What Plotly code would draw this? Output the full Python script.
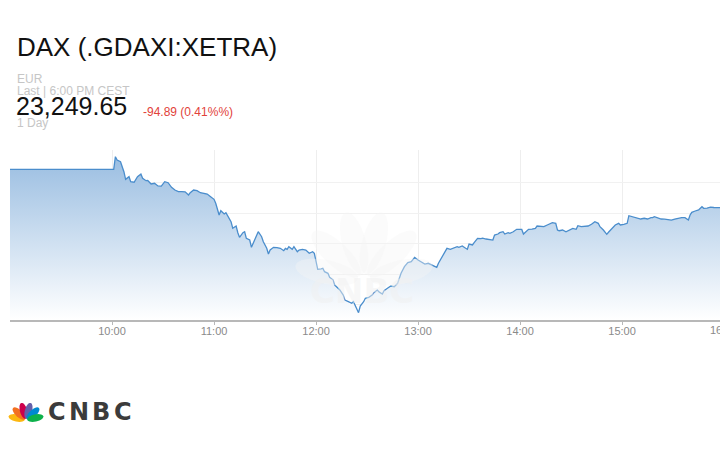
import math
import plotly.graph_objects as go

# ---------------- data ----------------
DATE = "2025-06-13"
times = [
    "09:00", "10:01", "10:02", "10:03", "10:05", "10:07", "10:08", "10:10", "10:11", "10:13",
    "10:15", "10:17", "10:18", "10:20", "10:21", "10:23", "10:25", "10:27", "10:29", "10:31",
    "10:33", "10:35", "10:37", "10:39", "10:41", "10:43", "10:45", "10:46", "10:48", "10:50",
    "10:52", "10:54", "10:56", "10:58", "11:00", "11:01", "11:02", "11:03", "11:04", "11:06",
    "11:07", "11:09", "11:10", "11:11", "11:13", "11:14", "11:15", "11:17", "11:18", "11:19",
    "11:21", "11:22", "11:24", "11:25", "11:26", "11:28", "11:29", "11:31", "11:32", "11:33",
    "11:35", "11:37", "11:39", "11:41", "11:42", "11:43", "11:44", "11:46", "11:47", "11:49",
    "11:50", "11:52", "11:54", "11:56", "11:58", "11:59", "12:00", "12:01", "12:03", "12:04",
    "12:05", "12:07", "12:08", "12:10", "12:11", "12:13", "12:14", "12:16", "12:17", "12:19",
    "12:21", "12:22", "12:23", "12:25", "12:26", "12:28", "12:29", "12:31", "12:33", "12:34",
    "12:36", "12:37", "12:39", "12:40", "12:42", "12:43", "12:44", "12:46", "12:48", "12:49",
    "12:50", "12:52", "12:54", "12:56", "12:58", "13:00", "13:02", "13:04", "13:06", "13:08",
    "13:11", "13:12", "13:14", "13:16", "13:17", "13:19", "13:21", "13:23", "13:24", "13:26",
    "13:28", "13:29", "13:30", "13:32", "13:33", "13:35", "13:37", "13:38", "13:40", "13:42",
    "13:44", "13:45", "13:47", "13:48", "13:50", "13:51", "13:53", "13:54", "13:56", "13:58",
    "14:00", "14:01", "14:02", "14:04", "14:05", "14:07", "14:09", "14:10", "14:12", "14:14",
    "14:16", "14:18", "14:19", "14:21", "14:22", "14:23", "14:25", "14:27", "14:29", "14:31",
    "14:33", "14:34", "14:36", "14:38", "14:40", "14:42", "14:44", "14:46", "14:47", "14:49",
    "14:51", "14:52", "14:54", "14:56", "14:58", "14:59", "15:01", "15:03", "15:04", "15:06",
    "15:08", "15:10", "15:11", "15:13", "15:15", "15:17", "15:18", "15:19", "15:21", "15:23",
    "15:25", "15:27", "15:29", "15:31", "15:33", "15:35", "15:37", "15:39", "15:40", "15:41",
    "15:43", "15:45", "15:47", "15:48", "15:50", "15:52", "15:54", "15:56", "15:58",
]
prices = [
    23344.54, 23344.54, 23375.7, 23367.5, 23363.3, 23338.6, 23319.8, 23326.3, 23313.9, 23312.5,
    23326.3, 23332.9, 23322.3, 23316.4, 23317.0, 23308.2, 23309.9, 23303.3, 23303.0, 23313.9,
    23311.4, 23300.1, 23293.4, 23289.2, 23289.5, 23288.8, 23281.0, 23286.7, 23293.4, 23291.7,
    23286.7, 23285.2, 23283.5, 23276.8, 23270.4, 23260.5, 23244.0, 23231.6, 23242.2, 23234.1,
    23237.3, 23223.5, 23215.1, 23198.8, 23204.4, 23187.9, 23176.5, 23187.9, 23190.3, 23174.0,
    23169.8, 23151.8, 23169.8, 23178.0, 23190.3, 23178.0, 23165.6, 23149.3, 23135.2, 23145.1,
    23151.8, 23151.0, 23149.3, 23143.4, 23149.3, 23146.9, 23153.3, 23146.9, 23153.3, 23140.9,
    23145.1, 23146.9, 23145.1, 23136.9, 23140.9, 23136.9, 23120.4, 23097.4, 23098.5, 23099.9,
    23091.5, 23087.6, 23077.6, 23071.0, 23058.6, 23050.5, 23046.3, 23033.9, 23021.6, 23017.4,
    23013.4, 23017.4, 23006.7, 22990.2, 23006.7, 23017.4, 23025.8, 23028.2, 23033.9, 23039.6,
    23046.3, 23042.1, 23036.4, 23044.6, 23050.5, 23054.4, 23056.2, 23054.4, 23062.8, 23075.2,
    23087.6, 23103.9, 23113.8, 23116.2, 23127.1, 23120.4, 23116.2, 23110.5, 23112.3, 23108.1,
    23102.4, 23112.3, 23128.6, 23145.1, 23149.3, 23146.9, 23150.8, 23153.3, 23151.8, 23155.0,
    23149.3, 23146.9, 23159.9, 23157.5, 23163.2, 23174.0, 23173.2, 23174.5, 23172.3, 23171.6,
    23169.8, 23182.2, 23184.6, 23187.9, 23190.3, 23184.6, 23187.9, 23186.4, 23190.3, 23196.3,
    23197.0, 23196.0, 23184.6, 23192.8, 23196.3, 23196.8, 23198.7, 23204.4, 23204.0, 23202.7,
    23206.9, 23211.1, 23212.6, 23211.1, 23194.5, 23192.8, 23194.5, 23190.3, 23194.5, 23198.7,
    23196.3, 23205.2, 23202.7, 23202.9, 23204.4, 23208.6, 23215.1, 23211.1, 23202.7, 23194.5,
    23183.9, 23188.9, 23198.7, 23206.9, 23211.1, 23206.9, 23208.6, 23211.1, 23229.9, 23227.4,
    23224.9, 23223.5, 23221.7, 23223.5, 23221.7, 23224.9, 23225.2, 23227.4, 23224.9, 23221.7,
    23221.4, 23219.3, 23219.0, 23221.7, 23223.5, 23224.9, 23225.2, 23219.3, 23231.6, 23238.3,
    23241.5, 23244.0, 23252.1, 23248.2, 23248.6, 23250.9, 23250.2, 23250.0, 23249.65,
]
hour_ticks = ["10:00", "11:00", "12:00", "13:00", "14:00", "15:00"]
last_tick = "16:00"
y_grid = [23010.7, 23085.7, 23160.7, 23235.7, 23310.7]
y_range = [22972.2, 23392.2]
x_start, x_end = "09:00:00", "15:57:36"

title_text = "DAX (.GDAXI:XETRA)"
currency = "EUR"
last_text = "Last | 6:00 PM CEST"
last_price = "23,249.65"
change_text = "-94.89 (0.41%%)"
period_text = "1 Day"
logo_letters = ["C", "N", "B", "C"]

# ---------------- figure ----------------
W, H = 720, 450
L, R, T, B = 10, 0, 150, 130
PW, PH = W - L - R, H - T - B


def pxx(x):
    return (x - L) / PW


def pxy(y):
    return (H - B - y) / PH


FONT = "Liberation Sans, Arial, Helvetica, sans-serif"

x = [f"{DATE} {t}" for t in times]

fig = go.Figure()
fig.add_trace(go.Scatter(
    x=x, y=prices, mode="lines",
    line=dict(color="#4a8dcc", width=1.3),
    fill="tozeroy",
    fillgradient=dict(type="vertical", start=y_range[0], stop=y_range[1],
                      colorscale=[[0, "rgb(255,255,255)"], [1, "rgb(150,187,224)"]]),
    hoverinfo="skip",
))

fig.update_layout(
    width=W, height=H,
    margin=dict(l=L, r=R, t=T, b=B),
    paper_bgcolor="white", plot_bgcolor="white",
    showlegend=False,
    font=dict(family=FONT),
    xaxis=dict(
        type="date",
        range=[f"{DATE} {x_start}", f"{DATE} {x_end}"],
        tickmode="array",
        tickvals=[f"{DATE} {t}" for t in hour_ticks],
        ticktext=hour_ticks,
        showgrid=True, gridcolor="#eeeeee", gridwidth=1,
        showline=True, linecolor="#b8b8b8", linewidth=1.5,
        ticks="outside", ticklen=3, tickcolor="#b8b8b8", tickwidth=1,
        ticklabelstandoff=-3,
        tickfont=dict(size=11, color="#8a8a8a", family=FONT),
        zeroline=False, fixedrange=True,
    ),
    yaxis=dict(
        range=y_range,
        tickmode="array", tickvals=y_grid,
        showticklabels=False, ticks="",
        showgrid=True, gridcolor="#f1f1f1", gridwidth=1,
        zeroline=False, showline=False, fixedrange=True,
    ),
)

# partially visible 16:00 label at right edge
t0 = 9 * 60
t_end = 15 * 60 + 57.6
t16 = 16 * 60
fig.add_annotation(xref="paper", yref="paper", x=(t16 - t0) / (t_end - t0), y=pxy(329.5),
                   text=last_tick, showarrow=False, xanchor="center", yanchor="middle",
                   font=dict(size=11, color="#8a8a8a", family=FONT))


# header texts
def add_text(txt, x, y, size, color, anchor="left", family=FONT):
    fig.add_annotation(xref="paper", yref="paper", x=pxx(x), y=pxy(y), text=txt,
                       showarrow=False, xanchor=anchor, yanchor="middle",
                       font=dict(size=size, color=color, family=family))


add_text(title_text, 15, 47, 26, "#111111")
add_text(currency, 15, 79, 12, "#c6c6c6")
add_text(last_text, 15, 91, 12, "#c6c6c6")
add_text(last_price, 14, 106, 25, "#111111")
add_text(change_text, 141, 112.5, 12, "#e2423a")
add_text(period_text, 15, 123, 12, "#c6c6c6")


# peacock helper (decoration)
def feather(cx, cy, ang_deg, dist, a, b, n=28):
    th = math.radians(ang_deg)
    dx, dy = math.sin(th), -math.cos(th)
    qx, qy = math.cos(th), math.sin(th)
    ccx, ccy = cx + dist * dx, cy + dist * dy
    pts = []
    for i in range(n):
        t = 2 * math.pi * i / n
        px_ = ccx + a * math.cos(t) * dx + b * math.sin(t) * qx
        py_ = ccy + a * math.cos(t) * dy + b * math.sin(t) * qy
        pts.append(f"{pxx(px_):.5f},{pxy(py_):.5f}")
    return "M" + " L".join(pts) + " Z"


angles = [-78, -47, -15, 15, 47, 78]
logo_colors = ["#fcb711", "#f37021", "#cc004c", "#6460aa", "#0089d0", "#0db14b"]

# watermark peacock in the middle of the chart
for ang in angles:
    fig.add_shape(type="path", path=feather(364, 280, ang, 38, 32, 12),
                  xref="paper", yref="paper", layer="above",
                  fillcolor="rgba(246,246,246,0.4)", line=dict(width=0))
fig.add_annotation(xref="paper", yref="paper", x=pxx(362), y=pxy(291), text="<b>CNBC</b>",
                   showarrow=False, xanchor="center", yanchor="middle",
                   font=dict(size=34, color="rgba(240,240,240,0.5)", family="DejaVu Sans"))

# bottom-left CNBC logo
for ang, col in zip(angles, logo_colors):
    fig.add_shape(type="path", path=feather(26, 420, ang, 9.5, 8.2, 3.6),
                  xref="paper", yref="paper", layer="above",
                  fillcolor=col, line=dict(width=0))
for i, ch in enumerate(logo_letters):
    add_text(f"<b>{ch}</b>", 56.5 + 22.0 * i, 412, 24, "#3b3b3b", anchor="center",
             family="DejaVu Sans")

fig.write_html("out.html", config={"displayModeBar": False},
               post_script="document.body.style.margin='0px';document.body.style.overflow='hidden';")
